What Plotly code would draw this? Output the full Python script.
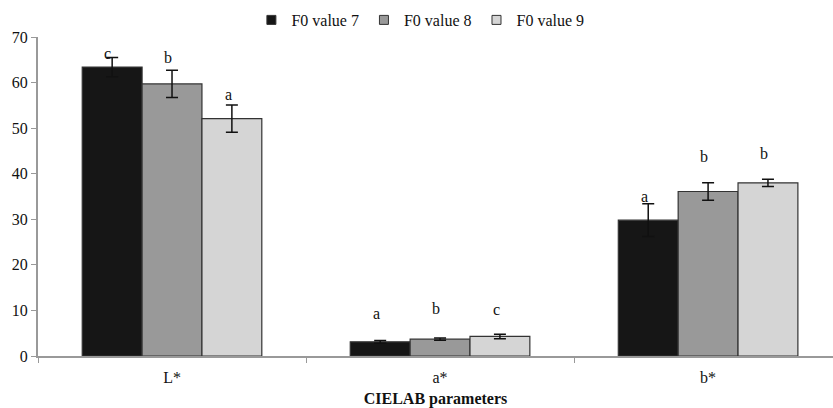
import plotly.graph_objects as go

# CIELAB parameters measured for three F0 values
categories = ["L*", "a*", "b*"]
series_names = ["F0 value 7", "F0 value 8", "F0 value 9"]
means = [
    [63.4, 3.1, 29.8],   # F0 value 7
    [59.7, 3.7, 36.1],   # F0 value 8
    [52.1, 4.3, 38.0],   # F0 value 9
]
errors = [
    [2.1, 0.3, 3.6],
    [3.0, 0.25, 1.9],
    [3.0, 0.5, 0.8],
]
# significance letters (per parameter, per F0 value)
letters = [
    ["c", "a", "a"],
    ["b", "b", "b"],
    ["a", "c", "b"],
]
letter_y = [
    [66.4, 9.4, 35.0],
    [65.4, 10.5, 43.7],
    [57.4, 10.2, 44.5],
]

fills = ["#161616", "#999999", "#d5d5d5"]
serif = "Liberation Serif, Times New Roman, serif"
ink = "#111111"

fig = go.Figure()
for name, vals, errs, col in zip(series_names, means, errors, fills):
    fig.add_trace(go.Bar(
        name=name, x=categories, y=vals, showlegend=False,
        marker=dict(color=col, line=dict(color="#333333", width=1.2)),
        error_y=dict(type="data", array=errs, color=ink, thickness=1.5, width=6),
    ))
    # small square legend keys
    fig.add_trace(go.Scatter(
        name=name, x=[None], y=[None], mode="markers",
        marker=dict(symbol="square", size=9, color=col,
                    line=dict(color="#333333", width=1)),
    ))

bar_w = 0.224
annotations = []
for s in range(3):
    for c in range(3):
        annotations.append(dict(
            x=c + (s - 1) * bar_w, y=letter_y[s][c], xref="x", yref="y",
            text=letters[s][c], showarrow=False, xshift=-4,
            font=dict(family=serif, size=16, color=ink),
        ))

fig.update_layout(
    width=833, height=408,
    margin=dict(l=38, r=0, t=37, b=52),
    paper_bgcolor="white", plot_bgcolor="white",
    barmode="group", bargap=0.33, bargroupgap=0,
    font=dict(family=serif, size=16, color=ink),
    showlegend=True,
    legend=dict(orientation="h", x=0.481, y=1.0, xanchor="center", yanchor="bottom",
                font=dict(family=serif, size=16, color=ink),
                itemwidth=30, tracegroupgap=0),
    annotations=annotations,
    xaxis=dict(
        type="category", range=[-0.5, 2.466],
        showline=True, linecolor="#999999", linewidth=2,
        ticks="outside", tickson="boundaries", ticklen=5, tickcolor="#999999",
        ticklabelstandoff=6,
        showgrid=False, zeroline=False,
        tickfont=dict(family=serif, size=16, color=ink),
        title=dict(text="<b>CIELAB parameters</b>", standoff=9,
                   font=dict(family=serif, size=16, color=ink)),
    ),
    yaxis=dict(
        range=[0, 70], dtick=10,
        showline=True, linecolor="#999999", linewidth=2,
        ticks="outside", ticklen=5, tickcolor="#999999",
        showgrid=False, zeroline=False,
        tickfont=dict(family=serif, size=16, color=ink),
    ),
)

fig.write_html("out.html")
